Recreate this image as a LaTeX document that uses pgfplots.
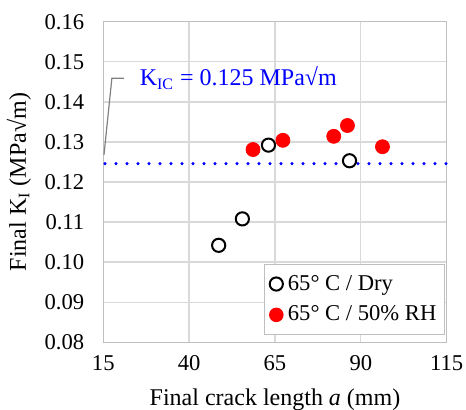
\documentclass[border=0pt]{standalone}
\usepackage{fontspec}
\setmainfont{Liberation Serif}
\usepackage{pgfplots}
\pgfplotsset{compat=1.18}
\definecolor{gridgray}{HTML}{D9D9D9}
\definecolor{boxgray}{HTML}{BFBFBF}
\definecolor{kblue}{HTML}{0000FF}
\definecolor{wetred}{HTML}{FF0000}

\begin{document}
\begin{tikzpicture}
\begin{axis}[
  name=ax,
  scale only axis,
  width=171.7pt,
  height=160.3pt,
  xmin=15, xmax=115,
  ymin=0.08, ymax=0.16,
  xtick={15,40,65,90,115},
  ytick={0.08,0.09,0.10,0.11,0.12,0.13,0.14,0.15,0.16},
  xticklabel={\pgfmathprintnumber[assume math mode=true]{\tick}},
  yticklabel={\pgfmathprintnumber[assume math mode=true,fixed,fixed zerofill,precision=2]{\tick}},
  yticklabel style={xshift=-6pt},
  xticklabel style={yshift=-3pt},
  tick label style={font=\fontsize{11.3}{13}\selectfont},
  label style={font=\fontsize{12}{14}\selectfont},
  xlabel={Final crack length \textit{a} (mm)},
  ylabel={Final K\textsubscript{I} (MPa√m)},
  xlabel style={yshift=-2.5pt},
  grid=major,
  grid style={draw=gridgray, line width=0.65pt},
  axis line style={draw=boxgray, line width=0.65pt},
  major tick length=0pt,
  legend style={
    at={(rel axis cs:0.995,0.023)}, anchor=south east,
    draw=boxgray, line width=0.65pt, fill=white,
    font=\fontsize{11.3}{13}\selectfont,
    nodes={inner ysep=3.2pt},
    inner sep=2pt,
    legend cell align=left,
  },
  legend image code/.code={\draw[#1] (0.15cm,0cm) circle[radius=3.3pt];},
  clip=false,
]
\addplot[only marks, mark=*, mark size=3.3pt, draw=black, fill=white, line width=1pt]
coordinates {
  (48.6,0.1042)
  (55.5,0.1108)
  (63.1,0.1292)
  (86.7,0.1253)
};
\addlegendentry{65° C / Dry}
\addplot[only marks, mark=*, mark size=3.5pt, draw=wetred, fill=wetred]
coordinates {
  (58.6,0.1281)
  (67.3,0.1304)
  (82.1,0.1314)
  (86.1,0.1341)
  (96.3,0.1288)
};
\addlegendentry{65° C / 50\% RH}
\addplot[kblue, line width=1.7pt, line cap=round, dash pattern=on 0pt off 5.5pt, forget plot]
coordinates {(15.5,0.1246) (115,0.1246)};
\draw[gray, line width=0.6pt] (axis cs:15.2,0.1268) -- (axis cs:17.5,0.1459) -- (axis cs:21,0.1459);
\node[anchor=west, text=kblue, font=\fontsize{12}{14}\selectfont, inner sep=0pt]
  at (axis cs:25.5,0.1459) {K\textsubscript{IC} = 0.125 MPa√m};
\end{axis}
\pgfresetboundingbox
\path (-51.65pt,-33.85pt) rectangle (181.35pt,171.15pt);
\end{tikzpicture}
\end{document}
